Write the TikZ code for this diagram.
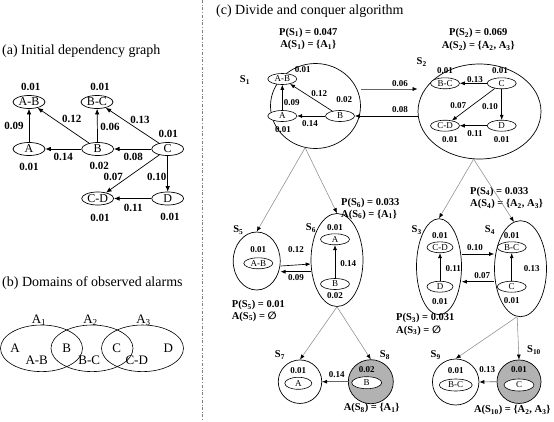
\documentclass[tikz,border=0pt]{standalone}
\usepackage{fontspec}
\setmainfont{Liberation Serif}
\newfontfamily\symfont{DejaVu Sans}
\usetikzlibrary{shapes.geometric,arrows.meta}
\newcommand{\sbs}[1]{\textsubscript{#1}}
\begin{document}
\begin{tikzpicture}[x=1pt,y=-1pt,
  arra/.style={-{Latex[length=5.5pt,width=4.5pt]}, line width=0.7pt},
  arr/.style={-{Latex[length=5pt,width=4pt]}, line width=0.65pt},
  tree/.style={-{Latex[length=5pt,width=4pt,color=black]}, line width=0.55pt, draw=black!45},
  bigv/.style={ellipse, draw, line width=0.7pt, minimum width=32pt, minimum height=13pt, inner sep=0pt, font=\fontsize{12}{12}\selectfont},
  smv/.style={ellipse, draw, line width=0.6pt, minimum width=29pt, minimum height=11pt, inner sep=0pt, fill=white, font=\fontsize{9}{9}\selectfont},
  numa/.style={font=\fontsize{11}{11}\selectfont\bfseries, inner sep=0pt},
  numc/.style={font=\fontsize{9}{9}\selectfont\bfseries, inner sep=0pt},
  plab/.style={font=\fontsize{10.5}{10.5}\selectfont\bfseries, inner sep=0pt},
  slab/.style={font=\fontsize{10.5}{10.5}\selectfont\bfseries, inner sep=0pt},
  vlab/.style={font=\fontsize{13}{13}\selectfont, inner sep=0pt},
  ttl/.style={font=\fontsize{14}{14}\selectfont, inner sep=0pt, anchor=west},
  cont/.style={ellipse, draw, line width=0.7pt, inner sep=0pt},
]
\useasboundingbox (0,0) rectangle (554,421);

% ---------- titles and divider
\node[ttl] (ta) at (2,51) {(a) Initial dependency graph};
\node[ttl] (tb) at (2,283) {(b) Domains of observed alarms};
\node[ttl] (tc) at (216,11) {(c) Divide and conquer algorithm};
\draw[dash dot, black!50, line width=0.5pt] (202.7,0) -- (202.7,421);

% ---------- (a) initial dependency graph
\node[bigv] (aAB) at (29,102) {A-B};
\node[bigv] (aBC) at (97,102) {B-C};
\node[bigv] (aA) at (29,149) {A};
\node[bigv] (aB) at (97.7,149) {B};
\node[bigv] (aC) at (167.7,149) {C};
\node[bigv] (aCD) at (97.7,198.5) {C-D};
\node[bigv] (aD) at (167.7,198.5) {D};
\draw[arra] (aA) -- (aAB);
\draw[arra] (aB) -- (aAB);
\draw[arra] (aB) -- (aBC);
\draw[arra] (aC) -- (aBC);
\draw[arra] (aB) -- (aA);
\draw[arra] (aC) -- (aB);
\draw[arra] (aC) -- (aCD);
\draw[arra] (aC) -- (aD);
\draw[arra] (aD) -- (aCD);
\node[numa] (na1) at (30.7,86.7) {0.01};
\node[numa] (na2) at (100,86.7) {0.01};
\node[numa] (na3) at (14,126) {0.09};
\node[numa] (na4) at (71.7,119) {0.12};
\node[numa] (na5) at (110,127.3) {0.06};
\node[numa] (na6) at (140,120) {0.13};
\node[numa] (na7) at (168.3,134.3) {0.01};
\node[numa] (na8) at (63.3,156.7) {0.14};
\node[numa] (na9) at (133.3,156.7) {0.08};
\node[numa] (na10) at (29,166.7) {0.01};
\node[numa] (na11) at (99.3,166) {0.02};
\node[numa] (na12) at (113.3,176.7) {0.07};
\node[numa] (na13) at (156.7,176.7) {0.10};
\node[numa] (na14) at (133.3,208.3) {0.11};
\node[numa] (na15) at (100,217.7) {0.01};
\node[numa] (na16) at (170,216.7) {0.01};

% ---------- (b) domains
\draw[line width=0.6pt] (41.5,348.3) ellipse [x radius=41, y radius=23.3];
\draw[line width=0.6pt] (92,348.3) ellipse [x radius=41, y radius=23.3];
\draw[line width=0.6pt] (142.5,348.3) ellipse [x radius=41, y radius=23.3];
\node[vlab] (bA1) at (39,320) {A\sbs{1}};
\node[vlab] (bA2) at (90.5,320) {A\sbs{2}};
\node[vlab] (bA3) at (143.5,320) {A\sbs{3}};
\node[vlab] (bA) at (15,348.3) {A};
\node[vlab] (bB) at (66.7,348.3) {B};
\node[vlab] (bC) at (116.7,348.3) {C};
\node[vlab] (bD) at (168.3,348.3) {D};
\node[vlab] (bAB) at (36.7,360.5) {A-B};
\node[vlab] (bBC) at (89.3,360.5) {B-C};
\node[vlab] (bCD) at (136.7,360.5) {C-D};

% ---------- (c) containers
\node[cont, minimum width=90pt, minimum height=85pt] (S1) at (315.5,106) {};
\node[cont, minimum width=123pt, minimum height=95pt] (S2) at (479.5,111.5) {};
\node[cont, minimum width=47pt, minimum height=58pt] (S5) at (256.7,261) {};
\node[cont, minimum width=52pt, minimum height=93pt] (S6) at (337,260) {};
\node[cont, minimum width=45pt, minimum height=96pt] (S3) at (439,266.7) {};
\node[cont, minimum width=52pt, minimum height=96pt] (S4) at (520.5,268.7) {};
\node[cont, minimum width=43.5pt, minimum height=43.5pt] (S7) at (300,381.7) {};
\node[cont, minimum width=45pt, minimum height=44pt, fill=black!30] (S8) at (370.8,381.7) {};
\node[cont, minimum width=46.5pt, minimum height=46pt] (S9) at (455.7,382) {};
\node[cont, minimum width=44pt, minimum height=43.5pt, fill=black!30] (S10) at (519,381.7) {};

% container labels
\node[slab] (l1) at (245,80) {S\sbs{1}};
\node[slab] (l2) at (421.7,62.3) {S\sbs{2}};
\node[slab] (l5) at (238.3,230) {S\sbs{5}};
\node[slab] (l6) at (311,228.3) {S\sbs{6}};
\node[slab] (l3) at (416.7,230) {S\sbs{3}};
\node[slab] (l4) at (490,230) {S\sbs{4}};
\node[slab] (l7) at (280,355) {S\sbs{7}};
\node[slab] (l8) at (385,355) {S\sbs{8}};
\node[slab] (l9) at (435.7,355) {S\sbs{9}};
\node[slab] (l10) at (534,350) {S\sbs{10}};

% P / A labels
\node[plab] (p1) at (308.3,32.7) {P(S\sbs{1}) = 0.047};
\node[plab] (a1) at (308.3,45) {A(S\sbs{1}) = \{A\sbs{1}\}};
\node[plab] (p2) at (478.3,33.3) {P(S\sbs{2}) = 0.069};
\node[plab] (a2) at (478.3,46) {A(S\sbs{2}) = \{A\sbs{2}, A\sbs{3}\}};
\node[plab, anchor=west] (p6) at (341,203) {P(S\sbs{6}) = 0.033};
\node[plab, anchor=west] (a6) at (341,214.5) {A(S\sbs{6}) = \{A\sbs{1}\}};
\node[plab, anchor=west] (p4) at (470,191.7) {P(S\sbs{4}) = 0.033};
\node[plab, anchor=west] (a4) at (470,204) {A(S\sbs{4}) = \{A\sbs{2}, A\sbs{3}\}};
\node[plab, anchor=west] (p5) at (231.7,305) {P(S\sbs{5}) = 0.01};
\node[plab, anchor=west] (a5) at (231.7,316.5) {A(S\sbs{5}) = {\symfont ∅}};
\node[plab, anchor=west] (p3) at (396,318.3) {P(S\sbs{3}) = 0.031};
\node[plab, anchor=west] (a3) at (396,330.5) {A(S\sbs{3}) = {\symfont ∅}};
\node[plab] (a8) at (371.7,408.3) {A(S\sbs{8}) = \{A\sbs{1}\}};
\node[plab] (a10) at (512.3,410) {A(S\sbs{10}) = \{A\sbs{2}, A\sbs{3}\}};

% S1 content
\node[smv] (AB1) at (282.3,79) {A-B};
\node[smv] (A1) at (282.3,116) {A};
\node[smv] (B1) at (340,116) {B};
\draw[arr] (A1) -- (AB1);
\draw[arr] (B1) -- (AB1);
\draw[arr] (B1) -- (A1);
\node[numc] (n11) at (302.7,70) {0.01};
\node[numc] (n12) at (291.7,102.3) {0.09};
\node[numc] (n13) at (319.3,93.3) {0.12};
\node[numc] (n14) at (344.3,100) {0.02};
\node[numc] (n15) at (310,123.3) {0.14};
\node[numc] (n16) at (283,130) {0.01};

% S2 content
\node[smv] (BC2) at (445,83.3) {B-C};
\node[smv] (C2) at (501.7,83.3) {C};
\node[smv] (CD2) at (445,125.7) {C-D};
\node[smv] (D2) at (501.7,125.7) {D};
\draw[arr] (C2) -- (BC2);
\draw[arr] (C2) -- (CD2);
\draw[arr] (C2) -- (D2);
\draw[arr] (D2) -- (CD2);
\node[numc] (n21) at (445,70.7) {0.01};
\node[numc] (n22) at (500,70.7) {0.01};
\node[numc] (n23) at (475,79.3) {0.13};
\node[numc] (n24) at (458.3,106) {0.07};
\node[numc] (n25) at (490,106.7) {0.10};
\node[numc] (n26) at (475,134) {0.11};
\node[numc] (n27) at (450,140) {0.01};
\node[numc] (n28) at (501.7,139.3) {0.01};

% S1 <-> S2
\draw[arr, draw=black!60, -{Latex[length=5pt,width=4pt,color=black]}] ([yshift=17pt]S1.east) -- ([yshift=22.5pt]S2.west);
\draw[arr] ([yshift=-4.5pt]S2.west) -- (B1.east);
\node[numc] (n06) at (400,83.3) {0.06};
\node[numc] (n08) at (400,110) {0.08};

% S5 / S6
\node[smv] (AB5) at (258.3,263.3) {A-B};
\node[numc] (n51) at (258.3,249.3) {0.01};
\node[smv] (A6) at (335,239.3) {A};
\node[smv] (B6) at (335,284) {B};
\draw[arr] (B6) -- (A6);
\node[numc] (n61) at (335,227.3) {0.01};
\node[numc] (n62) at (348.3,263.3) {0.14};
\node[numc] (n63) at (335,295.7) {0.02};
\draw[arr] ([yshift=-5pt]S5.east) -- ([yshift=-4pt]S6.west);
\draw[arr] ([yshift=-11.7pt]S6.west) -- ([yshift=-10.7pt]S5.east);
\node[numc] (n56a) at (296,250) {0.12};
\node[numc] (n56b) at (296,277.3) {0.09};

% S3 / S4
\node[smv, minimum width=26pt] (CD3) at (440,247.3) {C-D};
\node[smv, minimum width=26pt] (D3) at (440,286.7) {D};
\draw[arr] (D3) -- (CD3);
\node[numc] (n31) at (440,236) {0.01};
\node[numc] (n32) at (453.3,268.3) {0.11};
\node[numc] (n33) at (440,301.7) {0.01};
\node[smv] (BC4) at (511.7,247.3) {B-C};
\node[smv] (C4) at (511.7,286.7) {C};
\draw[arr] (C4) -- (BC4);
\node[numc] (n41) at (511.7,236) {0.01};
\node[numc] (n42) at (531.7,268.3) {0.13};
\node[numc] (n43) at (511.7,300.7) {0.01};
\draw[arr] ([yshift=12.7pt]S3.east) -- ([yshift=14.7pt]S4.west);
\draw[arr] ([yshift=-13pt]S4.west) -- ([yshift=-15pt]S3.east);
\node[numc] (n34a) at (475,247.3) {0.10};
\node[numc] (n34b) at (482.3,276) {0.07};

% S7 / S8
\node[smv, minimum width=27pt, minimum height=12pt] (A7) at (298.3,383.3) {A};
\node[numc] (n71) at (298.3,370.7) {0.01};
\node[smv, minimum width=30pt, minimum height=12pt] (B8) at (366.7,382.7) {B};
\node[numc] (n81) at (366.7,370) {0.02};
\draw[arr, draw=black!60, -{Latex[length=5pt,width=4pt,color=black]}] (S8.west) -- (S7.east);
\node[numc] (n78) at (336.7,375) {0.14};

% S9 / S10
\node[smv, minimum width=33pt, minimum height=12pt] (BC9) at (455.7,385) {B-C};
\node[numc] (n91) at (455.7,370.7) {0.01};
\node[smv, minimum width=30pt, minimum height=12pt] (C10) at (519,385) {C};
\node[numc] (n101) at (519,370) {0.01};
\draw[arr, draw=black!60, -{Latex[length=5pt,width=4pt,color=black]}] (S10.west) -- (S9.east);
\node[numc] (n910) at (487.3,370) {0.13};

% tree edges
\draw[tree] (S1.256) -- (S5.north);
\draw[tree] (S1.256) -- (S6.north);
\draw[tree] (S2.263) -- (S3.north);
\draw[tree] (S2.263) -- (S4.98);
\draw[tree] (S6.south) -- (S7.north);
\draw[tree] (S6.south) -- (S8.north);
\draw[tree] (S4.266) -- (S9.north);
\draw[tree] (S4.266) -- (S10.north);
\end{tikzpicture}
\end{document}
